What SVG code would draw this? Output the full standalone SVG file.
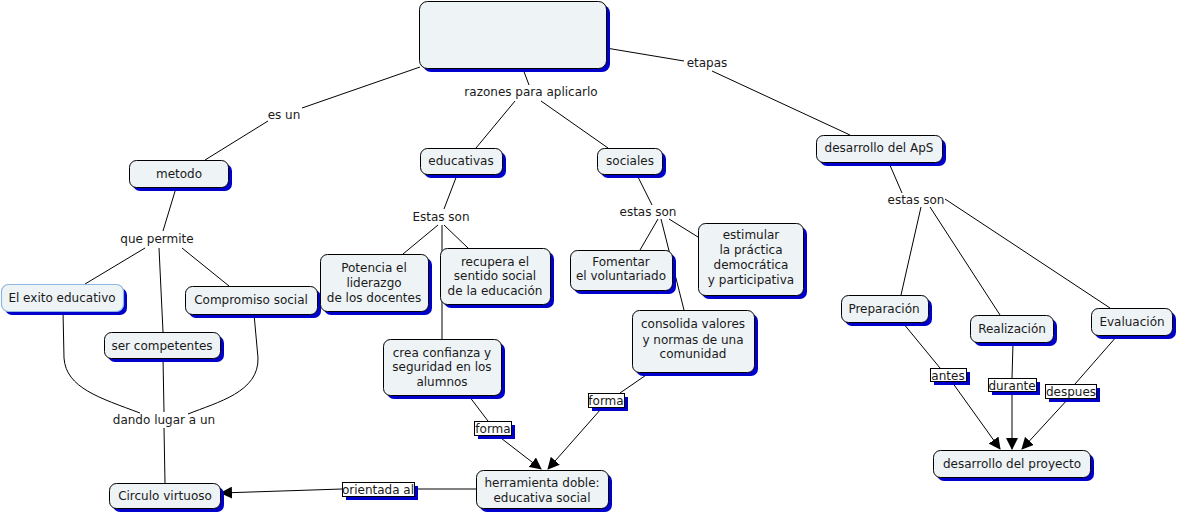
<svg xmlns="http://www.w3.org/2000/svg" width="1179" height="516" viewBox="0 0 1179 516">
<style>
text{font-family:"DejaVu Sans",Verdana,sans-serif;font-size:12px;fill:#1a1a1a;text-anchor:middle}
.sh{fill:#0000cc}
.nd{fill:#eef3f6;stroke:#000;stroke-width:1}
.nd2{fill:#eef3f6;stroke:#8fb8e0;stroke-width:1.2}
.lb{fill:#fff;stroke:#000;stroke-width:1}
.c{fill:none;stroke:#000;stroke-width:1}
.a{fill:none;stroke:#000;stroke-width:1;marker-end:url(#ar)}
</style>
<defs>
<marker id="ar" viewBox="0 0 12 12" refX="11" refY="6" markerWidth="12" markerHeight="12" markerUnits="userSpaceOnUse" orient="auto">
<path d="M0,0 L12,6 L0,12 z" fill="#000"/>
</marker>
</defs>
<rect width="1179" height="516" fill="#fff"/>
<g id="connectors">
<line class="c" x1="420" y1="67" x2="302" y2="108"/>
<line class="c" x1="268" y1="121" x2="205" y2="160"/>
<line class="c" x1="523" y1="69" x2="529" y2="85"/>
<line class="c" x1="515" y1="101" x2="476" y2="148"/>
<line class="c" x1="541" y1="101" x2="608" y2="148"/>
<line class="c" x1="606" y1="48" x2="684" y2="61"/>
<line class="c" x1="712" y1="71" x2="850" y2="135"/>
<line class="c" x1="176" y1="188" x2="163" y2="231"/>
<line class="c" x1="145" y1="248" x2="85" y2="284"/>
<line class="c" x1="159" y1="248" x2="163" y2="332"/>
<line class="c" x1="182" y1="248" x2="229" y2="286"/>
<path class="c" d="M63,311 L64,358 C66,388 100,398 140,413"/>
<path class="c" d="M254,314 L258,358 C259,392 218,402 188,414"/>
<line class="c" x1="163" y1="358" x2="164" y2="412"/>
<line class="c" x1="164" y1="428" x2="165" y2="483"/>
<line class="c" x1="457" y1="175" x2="444" y2="209"/>
<line class="c" x1="438" y1="225" x2="403" y2="254"/>
<line class="c" x1="444" y1="225" x2="468" y2="248"/>
<line class="c" x1="442" y1="225" x2="442" y2="339"/>
<line class="c" x1="469" y1="396" x2="488" y2="421"/>
<line class="a" x1="497" y1="435" x2="541" y2="469"/>
<line class="c" x1="637" y1="175" x2="652" y2="205"/>
<line class="c" x1="658" y1="219" x2="640" y2="250"/>
<line class="c" x1="669" y1="219" x2="698" y2="237"/>
<line class="c" x1="661" y1="219" x2="684" y2="310"/>
<line class="c" x1="652" y1="371" x2="620" y2="393"/>
<line class="a" x1="601" y1="409" x2="548" y2="469"/>
<line class="c" x1="476" y1="489" x2="414" y2="489"/>
<line class="a" x1="342" y1="489" x2="221" y2="493"/>
<line class="c" x1="889" y1="163" x2="902" y2="193"/>
<line class="c" x1="921" y1="207" x2="901" y2="295"/>
<line class="c" x1="930" y1="207" x2="1000" y2="315"/>
<line class="c" x1="945" y1="199" x2="1110" y2="308"/>
<line class="c" x1="903" y1="323" x2="940" y2="368"/>
<line class="a" x1="952" y1="382" x2="1000" y2="449"/>
<line class="c" x1="1013" y1="343" x2="1012" y2="378"/>
<line class="a" x1="1012" y1="392" x2="1012" y2="449"/>
<line class="c" x1="1117" y1="336" x2="1075" y2="384"/>
<line class="a" x1="1068" y1="399" x2="1022" y2="449"/>
</g>
<g id="n-top"><rect class="sh" x="423" y="5" width="187" height="67" rx="8"/><rect class="nd" x="419.5" y="1.5" width="187" height="67" rx="8"/></g>
<g id="n-metodo"><rect class="sh" x="133" y="164" width="99" height="27" rx="7"/><rect class="nd" x="129.5" y="160.5" width="99" height="27" rx="7"/><text x="179" y="178">metodo</text></g>
<g id="n-educativas"><rect class="sh" x="424" y="152" width="82" height="26" rx="7"/><rect class="nd" x="420.5" y="148.5" width="82" height="26" rx="7"/><text x="461" y="165">educativas</text></g>
<g id="n-sociales"><rect class="sh" x="601" y="152" width="65" height="26" rx="7"/><rect class="nd" x="597.5" y="148.5" width="65" height="26" rx="7"/><text x="630" y="165">sociales</text></g>
<g id="n-desarrollo"><rect class="sh" x="820" y="139" width="126" height="27" rx="7"/><rect class="nd" x="816.5" y="135.5" width="126" height="27" rx="7"/><text x="879" y="152">desarrollo del ApS</text></g>
<g id="n-exito"><rect class="sh" x="5" y="288" width="122" height="27" rx="7"/><rect class="nd2" x="1.5" y="284.5" width="122" height="27" rx="7"/><text x="62" y="302">El exito educativo</text></g>
<g id="n-compromiso"><rect class="sh" x="189" y="290" width="132" height="28" rx="7"/><rect class="nd" x="185.5" y="286.5" width="132" height="28" rx="7"/><text x="251" y="304">Compromiso social</text></g>
<g id="n-ser"><rect class="sh" x="108" y="336" width="116" height="26" rx="7"/><rect class="nd" x="104.5" y="332.5" width="116" height="26" rx="7"/><text x="162" y="350">ser competentes</text></g>
<g id="n-potencia"><rect class="sh" x="324" y="258" width="108" height="57" rx="7"/><rect class="nd" x="320.5" y="254.5" width="108" height="57" rx="7"/><text x="374" y="272">Potencia el</text><text x="374" y="287">liderazgo</text><text x="374" y="302">de los docentes</text></g>
<g id="n-recupera"><rect class="sh" x="444" y="252" width="110" height="56" rx="7"/><rect class="nd" x="440.5" y="248.5" width="110" height="56" rx="7"/><text x="495" y="266">recupera el</text><text x="495" y="280">sentido social</text><text x="495" y="295">de la educación</text></g>
<g id="n-fomentar"><rect class="sh" x="574" y="254" width="102" height="40" rx="7"/><rect class="nd" x="570.5" y="250.5" width="102" height="40" rx="7"/><text x="621" y="266">Fomentar</text><text x="621" y="280">el voluntariado</text></g>
<g id="n-estimular"><rect class="sh" x="702" y="227" width="105" height="72" rx="7"/><rect class="nd" x="698.5" y="223.5" width="105" height="72" rx="7"/><text x="751" y="239">estimular</text><text x="751" y="254">la práctica</text><text x="751" y="269">democrática</text><text x="751" y="284">y participativa</text></g>
<g id="n-consolida"><rect class="sh" x="636" y="314" width="122" height="62" rx="7"/><rect class="nd" x="632.5" y="310.5" width="122" height="62" rx="7"/><text x="693" y="328">consolida valores</text><text x="693" y="344">y normas de una</text><text x="693" y="358">comunidad</text></g>
<g id="n-crea"><rect class="sh" x="387" y="343" width="118" height="56" rx="7"/><rect class="nd" x="383.5" y="339.5" width="118" height="56" rx="7"/><text x="442" y="357">crea confianza y</text><text x="442" y="371">seguridad en los</text><text x="442" y="386">alumnos</text></g>
<g id="n-preparacion"><rect class="sh" x="845" y="299" width="87" height="27" rx="7"/><rect class="nd" x="841.5" y="295.5" width="87" height="27" rx="7"/><text x="884" y="313">Preparación</text></g>
<g id="n-realizacion"><rect class="sh" x="974" y="319" width="83" height="27" rx="7"/><rect class="nd" x="970.5" y="315.5" width="83" height="27" rx="7"/><text x="1012" y="333">Realización</text></g>
<g id="n-evaluacion"><rect class="sh" x="1095" y="312" width="81" height="27" rx="7"/><rect class="nd" x="1091.5" y="308.5" width="81" height="27" rx="7"/><text x="1132" y="326">Evaluación</text></g>
<g id="n-proyecto"><rect class="sh" x="937" y="454" width="157" height="27" rx="7"/><rect class="nd" x="933.5" y="450.5" width="157" height="27" rx="7"/><text x="1012" y="468">desarrollo del proyecto</text></g>
<g id="n-herramienta"><rect class="sh" x="480" y="474" width="132" height="38" rx="7"/><rect class="nd" x="476.5" y="470.5" width="132" height="38" rx="7"/><text x="542" y="487">herramienta doble:</text><text x="542" y="502">educativa social</text></g>
<g id="n-circulo"><rect class="sh" x="113" y="487" width="111" height="25" rx="7"/><rect class="nd" x="109.5" y="483.5" width="111" height="25" rx="7"/><text x="165" y="500">Circulo virtuoso</text></g>
<g id="labels">
<text x="284" y="119">es un</text>
<text x="531" y="96">razones para aplicarlo</text>
<text x="707" y="67">etapas</text>
<text x="157" y="243">que permite</text>
<text x="441" y="221">Estas son</text>
<text x="648" y="216">estas son</text>
<text x="916" y="204">estas son</text>
<text x="164" y="424">dando lugar a un</text>
</g>
<g id="l-forma1"><rect class="sh" x="478" y="425" width="37" height="14"/><rect class="lb" x="474.5" y="421.5" width="37" height="14"/><text x="493" y="433">forma</text></g>
<g id="l-forma2"><rect class="sh" x="592" y="397" width="36" height="14"/><rect class="lb" x="588.5" y="393.5" width="36" height="14"/><text x="606" y="405">forma</text></g>
<g id="l-orientada"><rect class="sh" x="346" y="486" width="72" height="14"/><rect class="lb" x="342.5" y="482.5" width="72" height="14"/><text x="378" y="494">orientada al</text></g>
<g id="l-antes"><rect class="sh" x="934" y="372" width="36" height="13"/><rect class="lb" x="930.5" y="368.5" width="36" height="13"/><text x="948" y="380">antes</text></g>
<g id="l-durante"><rect class="sh" x="992" y="382" width="48" height="13"/><rect class="lb" x="988.5" y="378.5" width="48" height="13"/><text x="1012" y="390">durante</text></g>
<g id="l-despues"><rect class="sh" x="1049" y="388" width="51" height="14"/><rect class="lb" x="1045.5" y="384.5" width="51" height="14"/><text x="1071" y="396">despues</text></g>
</svg>
